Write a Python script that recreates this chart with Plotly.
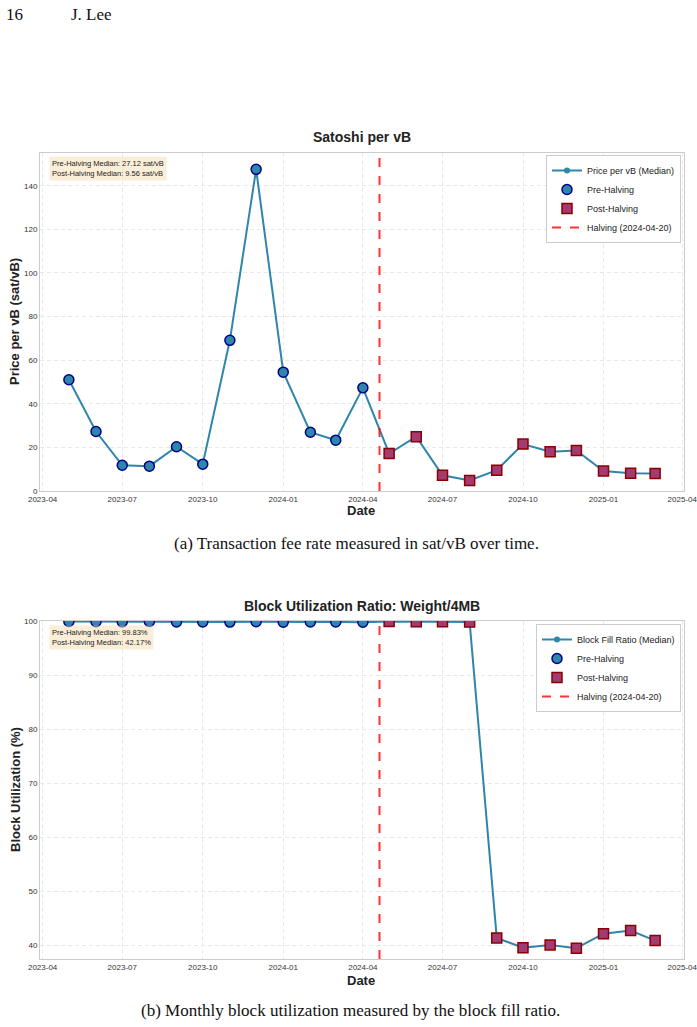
import numpy as np
import plotly.graph_objects as go

# ---------------- data ----------------
months_pre = ["2023-05-01", "2023-06-01", "2023-07-01", "2023-08-01", "2023-09-01", "2023-10-01",
              "2023-11-01", "2023-12-01", "2024-01-01", "2024-02-01", "2024-03-01", "2024-04-01"]
months_post = ["2024-05-01", "2024-06-01", "2024-07-01", "2024-08-01", "2024-09-01", "2024-10-01",
               "2024-11-01", "2024-12-01", "2025-01-01", "2025-02-01", "2025-03-01"]

fee_pre = [51.0, 27.29, 11.8, 11.4, 20.3, 12.3, 69.1, 147.5, 54.5, 26.95, 23.3, 47.3]
fee_post = [17.2, 24.9, 7.2, 4.8, 9.56, 21.5, 18.0, 18.6, 9.2, 8.1, 8.0]

fill_pre = [99.91, 99.87, 99.85, 99.90, 99.83, 99.82, 99.80, 99.86, 99.78, 99.81, 99.83, 99.79]
fill_post = [99.90, 99.88, 99.85, 99.80, 41.4, 39.6, 40.1, 39.5, 42.17, 42.75, 40.9]

halving_date = "2024-04-20"
x_ticks = ["2023-04-01", "2023-07-01", "2023-10-01", "2024-01-01", "2024-04-01",
           "2024-07-01", "2024-10-01", "2025-01-01", "2025-04-01"]
x_range = ["2023-03-29", "2025-04-03"]

# ---------------- style ----------------
W, H = 697, 1027
LINE_C = "#2E86AB"
PRE_C = "#2E86AB"
PRE_EDGE = "#00008B"
POST_C = "#A23B72"
POST_EDGE = "#8B0000"
HALV_C = "rgba(255,0,0,0.8)"
SANS = "Liberation Sans, Arial, sans-serif"
SERIF = "Liberation Serif, Times New Roman, serif"


def px(x):
    return x / W


def py(y):
    return 1 - y / H


fig = go.Figure()

dates_all = months_pre + months_post
fee_all = fee_pre + fee_post
fill_all = fill_pre + fill_post

panels = [
    dict(xa="x", ya="y", leg="legend", vals=fee_all, pre=fee_pre, post=fee_post,
         name="Price per vB (Median)"),
    dict(xa="x2", ya="y2", leg="legend2", vals=fill_all, pre=fill_pre, post=fill_post,
         name="Block Fill Ratio (Median)"),
]

for p in panels:
    fig.add_trace(go.Scatter(x=dates_all, y=p["vals"], mode="lines+markers", name=p["name"],
                             line=dict(color=LINE_C, width=2),
                             marker=dict(symbol="circle", size=6, color=LINE_C),
                             xaxis=p["xa"], yaxis=p["ya"], legend=p["leg"]))
    fig.add_trace(go.Scatter(x=months_pre, y=p["pre"], mode="markers", name="Pre-Halving",
                             marker=dict(symbol="circle", size=10, color=PRE_C,
                                         line=dict(color=PRE_EDGE, width=1.5)),
                             xaxis=p["xa"], yaxis=p["ya"], legend=p["leg"]))
    fig.add_trace(go.Scatter(x=months_post, y=p["post"], mode="markers", name="Post-Halving",
                             marker=dict(symbol="square", size=10, color=POST_C,
                                         line=dict(color=POST_EDGE, width=1.5)),
                             xaxis=p["xa"], yaxis=p["ya"], legend=p["leg"]))
    fig.add_trace(go.Scatter(x=[None], y=[None], mode="lines", name=f"Halving ({halving_date})",
                             line=dict(color=HALV_C, width=2, dash="dash"),
                             xaxis=p["xa"], yaxis=p["ya"], legend=p["leg"]))
    fig.add_shape(type="line", xref=p["xa"], yref=f"{p['ya']} domain",
                  x0=halving_date, x1=halving_date, y0=0, y1=1,
                  line=dict(color=HALV_C, width=2, dash="dash"))

# ---------------- axes ----------------
xdom = [px(40), px(684)]
ydom1 = [py(491), py(153)]
ydom2 = [py(959), py(621)]

axis_common = dict(showline=True, linecolor="#cccccc", linewidth=1, mirror=True,
                   showgrid=True, gridcolor="#e9e9e9", griddash="4px,3px", gridwidth=1,
                   zeroline=False, ticks="", automargin=False, ticklabeloverflow="allow",
                   tickfont=dict(family=SANS, size=8, color="#333333"))

fig.update_layout(
    xaxis=dict(domain=xdom, anchor="y", type="date", range=x_range, tickvals=x_ticks,
               tickformat="%Y-%m", **axis_common),
    yaxis=dict(domain=ydom1, anchor="x", range=[0, 155], tickvals=list(range(0, 141, 20)),
               **axis_common),
    xaxis2=dict(domain=xdom, anchor="y2", type="date", range=x_range, tickvals=x_ticks,
                tickformat="%Y-%m", **axis_common),
    yaxis2=dict(domain=ydom2, anchor="x2", range=[37.5, 100], tickvals=list(range(40, 101, 10)),
                **axis_common),
)

legend_common = dict(bgcolor="white", bordercolor="#cccccc", borderwidth=1,
                     font=dict(family=SANS, size=9, color="#222222"),
                     xanchor="right", yanchor="top", tracegroupgap=0, itemwidth=30)
fig.update_layout(
    legend=dict(x=px(681), y=py(155), **legend_common),
    legend2=dict(x=px(681), y=py(624), **legend_common),
)

# ---------------- text ----------------
ann = []
pre_med1, post_med1 = np.median(fee_pre), np.median(fee_post)
pre_med2, post_med2 = np.median(fill_pre), np.median(fill_post)


def text(x, y, s, font, xanchor="center", yanchor="middle", **kw):
    d = dict(x=px(x), y=py(y), xref="paper", yref="paper", xanchor=xanchor, yanchor=yanchor,
             text=s, showarrow=False, font=font)
    d.update(kw)
    ann.append(d)


box_font = dict(family=SANS, size=7.5, color="#222222")
text(49, 156, f"Pre-Halving Median: {pre_med1:.2f} sat/vB<br>Post-Halving Median: {post_med1:.2f} sat/vB",
     box_font, xanchor="left", yanchor="top", align="left",
     bgcolor="rgba(245,222,179,0.5)", borderpad=2)
text(49, 625, f"Pre-Halving Median: {pre_med2:.2f}%<br>Post-Halving Median: {post_med2:.2f}%",
     box_font, xanchor="left", yanchor="top", align="left",
     bgcolor="rgba(245,222,179,0.5)", borderpad=2)

title_font = dict(family=SANS, size=14, color="#222222")
label_font = dict(family=SANS, size=13, color="#222222")
serif_font = dict(family=SERIF, size=17, color="#111111")

text(362, 137, "<b>Satoshi per vB</b>", title_font)
text(362, 606, "<b>Block Utilization Ratio: Weight/4MB</b>", title_font)
text(361, 511, "<b>Date</b>", label_font)
text(361, 980, "<b>Date</b>", label_font)
text(15, 322, "<b>Price per vB (sat/vB)</b>", label_font, textangle=-90)
text(15, 790, "<b>Block Utilization (%)</b>", label_font, textangle=-90)
# page header
text(4, 14, "16", serif_font, xanchor="left")
text(69, 14, "J. Lee", serif_font, xanchor="left")
# captions
text(356, 543, "(a) Transaction fee rate measured in sat/vB over time.", serif_font)
text(350, 1010, "(b) Monthly block utilization measured by the block fill ratio.", serif_font)

fig.update_layout(
    annotations=ann,
    width=W, height=H, autosize=False,
    margin=dict(l=0, r=0, t=0, b=0),
    paper_bgcolor="white", plot_bgcolor="white",
    font=dict(family=SANS),
)

fig.write_html("out.html")
